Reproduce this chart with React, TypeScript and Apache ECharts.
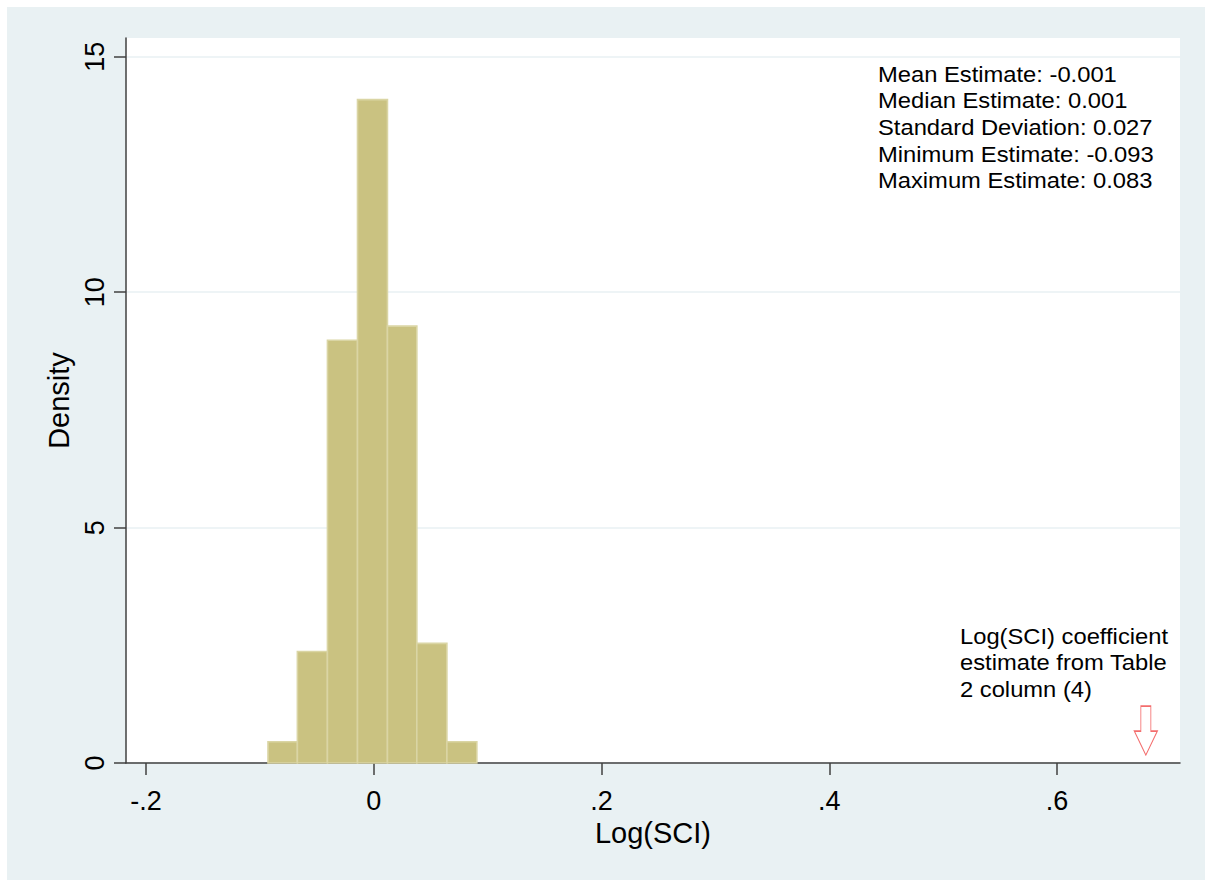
import React, { useEffect, useRef } from "react";
import * as echarts from "echarts";

// Histogram of Log(SCI) placebo estimates
const binEdges = [-0.0929, -0.0671, -0.0407, -0.0143, 0.012, 0.0378, 0.0642, 0.0905];
const densities = [0.45, 2.37, 8.98, 14.09, 9.28, 2.54, 0.45];

const xTicks = [-0.2, 0, 0.2, 0.4, 0.6];
const yTicks = [0, 5, 10, 15];

const coefficientEstimate = 0.678; // red arrow position
const arrowY = 0.69;

const statsLines = [
  "Mean Estimate: -0.001",
  "Median Estimate: 0.001",
  "Standard Deviation: 0.027",
  "Minimum Estimate: -0.093",
  "Maximum Estimate: 0.083",
];
const arrowNoteLines = ["Log(SCI) coefficient", "estimate from Table", "2 column (4)"];

const FONT = "'Liberation Sans', Arial, Helvetica, sans-serif";

function fmtTick(v: number): string {
  if (Math.abs(v) < 1e-9) return "0";
  const s = String(Math.round(v * 1000) / 1000);
  return s.replace("0.", ".");
}

export default function App() {
  const ref = useRef<HTMLDivElement>(null);

  useEffect(() => {
    document.body.style.margin = "0";
    if (!ref.current) return;
    const chart = echarts.init(ref.current, undefined, { renderer: "svg" });

    const histData = densities.map((d, i) => [binEdges[i], binEdges[i + 1], d]);

    chart.setOption({
      animation: false,
      backgroundColor: "#e9f1f3",
      textStyle: { fontFamily: FONT },
      grid: {
        left: 119,
        top: 31,
        right: 25,
        bottom: 117,
        show: true,
        backgroundColor: "#ffffff",
        borderWidth: 0,
      },
      xAxis: {
        type: "value",
        min: -0.2176,
        max: 0.708,
        name: "Log(SCI)",
        nameLocation: "middle",
        nameGap: 52,
        nameTextStyle: { fontSize: 29, color: "#000", fontFamily: FONT },
        axisLine: { show: true, onZero: false, lineStyle: { color: "#404040", width: 1.5 } },
        axisTick: {
          show: true,
          length: 12,
          customValues: xTicks,
          lineStyle: { color: "#404040", width: 1.5 },
        },
        axisLabel: {
          customValues: xTicks,
          formatter: (v: number) => fmtTick(v),
          fontSize: 27,
          color: "#000",
          margin: 24,
          fontFamily: FONT,
        },
        splitLine: { show: false },
      },
      yAxis: {
        type: "value",
        min: 0,
        max: 15.4,
        interval: 5,
        name: "Density",
        nameLocation: "middle",
        nameGap: 50,
        nameRotate: 90,
        nameTextStyle: { fontSize: 29, color: "#000", fontFamily: FONT },
        axisLine: { show: true, onZero: false, lineStyle: { color: "#404040", width: 1.5 } },
        axisTick: {
          show: true,
          length: 12,
          customValues: yTicks,
          lineStyle: { color: "#404040", width: 1.5 },
        },
        axisLabel: {
          customValues: yTicks,
          rotate: 90,
          fontSize: 27,
          color: "#000",
          margin: 18,
          fontFamily: FONT,
        },
        splitLine: { show: true, lineStyle: { color: "#e9f1f3", width: 1.5 } },
      },
      series: [
        {
          type: "custom",
          name: "histogram",
          data: histData,
          encode: { x: [0, 1], y: 2 },
          renderItem: (params: any, api: any) => {
            const x0 = api.value(0);
            const x1 = api.value(1);
            const h = api.value(2);
            const p0 = api.coord([x0, h]);
            const p1 = api.coord([x1, 0]);
            return {
              type: "rect",
              shape: { x: p0[0], y: p0[1], width: p1[0] - p0[0], height: p1[1] - p0[1] },
              style: { fill: "#cac281", stroke: "#dad5a4", lineWidth: 1.6 },
            };
          },
          z: 2,
        },
        {
          type: "scatter",
          name: "coefficient",
          data: [[coefficientEstimate, arrowY]],
          symbol: "path://M6.5,0 L16.5,0 L16.5,25 L23,25 L11.5,49 L0,25 L6.5,25 Z",
          symbolSize: [23, 49],
          itemStyle: { color: "rgba(0,0,0,0)", borderColor: "#f04848", borderWidth: 1.2 },
          silent: true,
          z: 3,
        },
      ],
      graphic: [
        {
          type: "text",
          x: 871,
          y: 53.5,
          scaleX: 1.08,
          style: {
            text: statsLines.join("\n"),
            fontSize: 22,
            lineHeight: 26.7,
            fontFamily: FONT,
            fill: "#000",
            verticalAlign: "top",
            align: "left",
          },
        },
        {
          type: "text",
          x: 953,
          y: 616,
          scaleX: 1.08,
          style: {
            text: arrowNoteLines.join("\n"),
            fontSize: 22,
            lineHeight: 26.5,
            fontFamily: FONT,
            fill: "#000",
            verticalAlign: "top",
            align: "left",
          },
        },
      ],
    });

    return () => chart.dispose();
  }, []);

  return (
    <div
      ref={ref}
      style={{ width: 1198, height: 873, marginLeft: 7, marginTop: 7 }}
    />
  );
}
